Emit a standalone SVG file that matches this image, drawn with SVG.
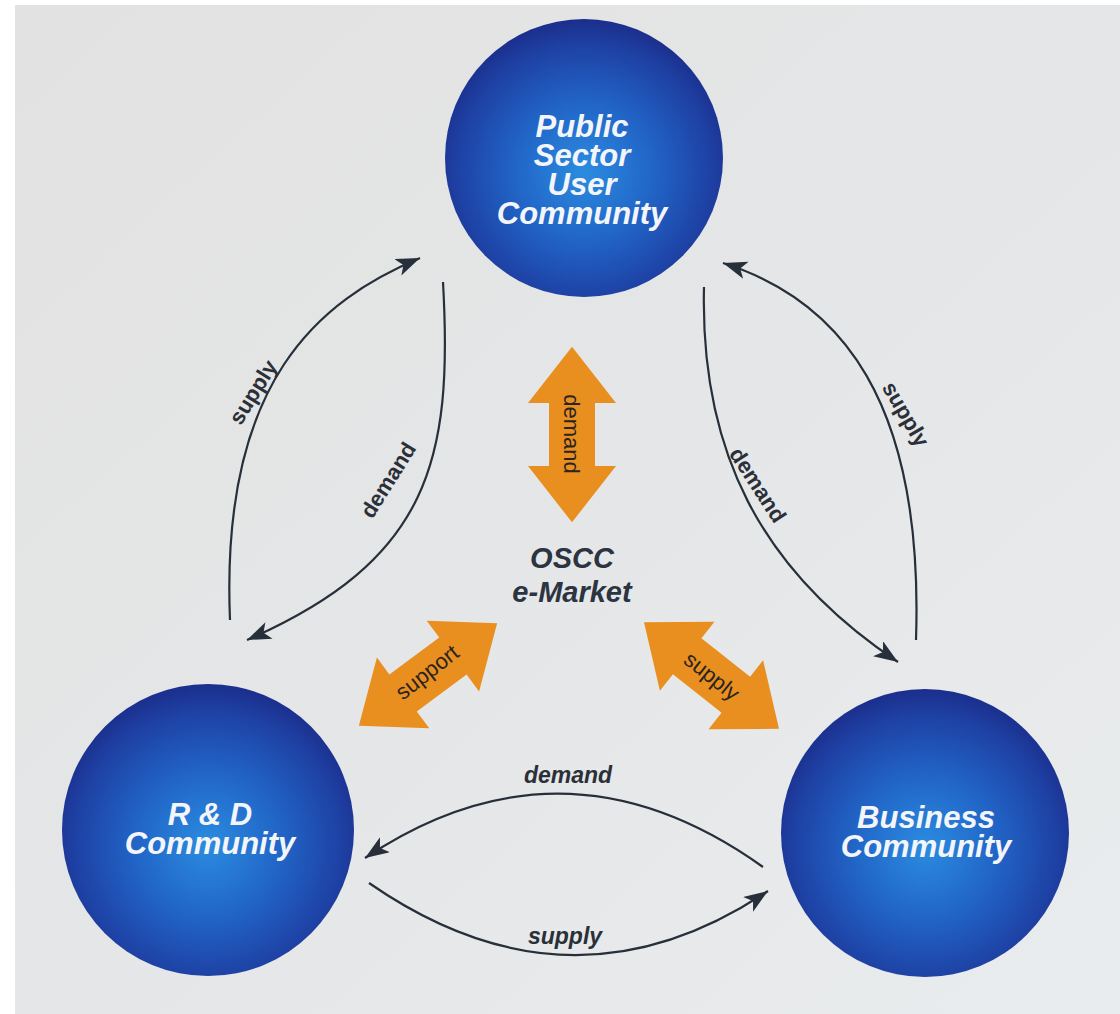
<svg xmlns="http://www.w3.org/2000/svg" width="1120" height="1014" viewBox="0 0 1120 1014">
<style>
.node-title{font-family:"Liberation Sans",Arial,sans-serif;font-weight:bold;font-style:italic;font-size:31px;fill:#f3f5f9;text-anchor:middle}
.center-title{font-family:"Liberation Sans",Arial,sans-serif;font-weight:bold;font-style:italic;font-size:29px;fill:#2b3440;text-anchor:middle}
.flow{fill:none;stroke:#27303a;stroke-width:2.2}
.lbl{font-family:"Liberation Sans",Arial,sans-serif;font-weight:bold;font-size:22px;fill:#2b3038;text-anchor:middle}
.lbl-i{font-family:"Liberation Sans",Arial,sans-serif;font-weight:bold;font-style:italic;font-size:23px;fill:#2b3038;text-anchor:middle}
.olbl{font-family:"Liberation Sans",Arial,sans-serif;font-size:22px;fill:#2a2320;text-anchor:middle}
.orange{fill:#e88f1f}
</style>
<defs>
<linearGradient id="bg" x1="0" y1="0" x2="1" y2="1">
<stop offset="0" stop-color="#e2e2e2"/>
<stop offset="0.5" stop-color="#e5e6e7"/>
<stop offset="1" stop-color="#e9ecee"/>
</linearGradient>
<radialGradient id="ball" cx="50%" cy="55%" r="55%">
<stop offset="0" stop-color="#2b8ce0"/>
<stop offset="0.45" stop-color="#2165c7"/>
<stop offset="0.85" stop-color="#1e3fa2"/>
<stop offset="1" stop-color="#1b2e8c"/>
</radialGradient>
<marker id="head" markerUnits="userSpaceOnUse" markerWidth="26" markerHeight="20" refX="24" refY="9" orient="auto">
<path d="M0,0 L24,9 L0,18 L6,9 Z" fill="#27303a"/>
</marker>
<path id="dbl" d="M-86,0 L-31,-44 L-31,-23 L31,-23 L31,-44 L86,0 L31,44 L31,23 L-31,23 L-31,44 Z"/>
</defs>
<rect width="1120" height="1014" fill="#ffffff"/>
<rect x="15" y="5" width="1105" height="1009" fill="url(#bg)"/>

<g id="connectors">
<path class="flow" d="M230,620 C220,380 320,300 420,258" marker-end="url(#head)"/>
<path class="flow" d="M443,282 C453,460 430,560 247,640" marker-end="url(#head)"/>
<path class="flow" d="M704,287 C700,450 760,570 898,662" marker-end="url(#head)"/>
<path class="flow" d="M916,640 C924,400 840,300 723,263" marker-end="url(#head)"/>
<path class="flow" d="M763,867 Q564,725 365,858" marker-end="url(#head)"/>
<path class="flow" d="M369,883 Q571,1023 768,891" marker-end="url(#head)"/>
<text class="lbl" transform="translate(253,392) rotate(-58)" dy="0.35em">supply</text>
<text class="lbl" transform="translate(388,480) rotate(-58)" dy="0.35em">demand</text>
<text class="lbl" transform="translate(758,485) rotate(57)" dy="0.35em">demand</text>
<text class="lbl" transform="translate(906,414) rotate(60)" dy="0.35em">supply</text>
<text class="lbl-i" x="568" y="783">demand</text>
<text class="lbl-i" x="565" y="944">supply</text>
</g>

<g id="arrow-demand">
<use href="#dbl" class="orange" transform="translate(572,434.5) rotate(90) scale(1.02,1)"/>
<text class="olbl" transform="translate(572,434) rotate(90)" dy="0.35em">demand</text>
</g>
<g id="arrow-support">
<use href="#dbl" class="orange" transform="translate(428,674.5) rotate(-36.5)"/>
<text class="olbl" transform="translate(427,672) rotate(-38)" dy="0.35em">support</text>
</g>
<g id="arrow-supply">
<use href="#dbl" class="orange" transform="translate(711.5,675.5) rotate(38.3)"/>
<text class="olbl" transform="translate(712,676) rotate(38.5)" dy="0.35em">supply</text>
</g>

<g id="node-public">
<circle cx="584" cy="158" r="139" fill="url(#ball)"/>
<text class="node-title" x="582" y="137">Public</text>
<text class="node-title" x="582" y="166">Sector</text>
<text class="node-title" x="582" y="195">User</text>
<text class="node-title" x="582" y="224">Community</text>
</g>
<g id="node-rd">
<circle cx="208" cy="830" r="146" fill="url(#ball)"/>
<text class="node-title" x="210" y="825">R &amp; D</text>
<text class="node-title" x="210" y="854">Community</text>
</g>
<g id="node-business">
<circle cx="925" cy="833" r="144" fill="url(#ball)"/>
<text class="node-title" x="926" y="828">Business</text>
<text class="node-title" x="926" y="857">Community</text>
</g>
<g id="node-oscc">
<text class="center-title" x="572" y="568">OSCC</text>
<text class="center-title" x="572" y="602">e-Market</text>
</g>
</svg>
